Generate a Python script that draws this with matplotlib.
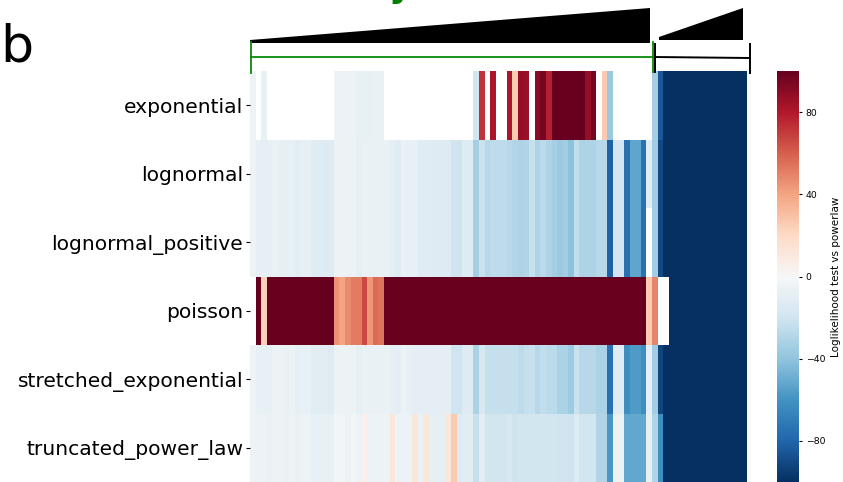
import numpy as np
import matplotlib
matplotlib.use("Agg")
import matplotlib.pyplot as plt
from matplotlib.lines import Line2D
from matplotlib.patches import Polygon

W = np.nan  # blank cell

distributions = ["exponential", "lognormal", "lognormal_positive", "poisson",
                 "stretched_exponential", "truncated_power_law"]

exponential = [
    -6, W, -8, W, W, W, W, W, W, W, W, W, W, W, W,
    -6, -6, -6, -6, -8, -8, -8, -7, -7,
    W, W, W, W, W, W, W, W, W, W, W, W, W, W, W, W,
    -19, 72, W, 82, W, W, 82, 26, 88, 86, W, 90, 96, 78,
    100, 100, 100, 100, 100, 100, 88, 96, W, 26,
    -37, W, W, W, W, W, W, W, -34, -85,
    -100, -100, -100, -100, -100, -100, -100, -100, -100, -100, -100, -100, -100, -100, -100,
]
lognormal = [
    -5, -9, -9, -9, -7, -9, -9, -8, -11, -9, -9, -12, -12, -13, -13,
    -5, -5, -5, -5, -9, -7, -7, -7, -7,
    -7, -10, -12, -7, -8, -8, -12, -12, -12, -13, -13, -13, -20, -21, -14, -14,
    -34, -22, -28, -26, -26, -26, -28, -30, -31, -30, -23, -31, -27, -31,
    -34, -37, -35, -41, -25, -31, -31, -31, -28, -28,
    -82, -18, -18, -75, -53, -53, -75, -12, -35, -90,
    -100, -100, -100, -100, -100, -100, -100, -100, -100, -100, -100, -100, -100, -100, -100,
]
lognormal_positive = [
    -5, -9, -9, -9, -7, -9, -9, -8, -11, -9, -9, -12, -12, -13, -13,
    -5, -5, -5, -5, -9, -7, -7, -7, -7,
    -7, -10, -12, -7, -8, -8, -12, -12, -12, -13, -13, -13, -20, -21, -14, -14,
    -34, -22, -28, -26, -26, -26, -28, -30, -31, -30, -23, -31, -27, -31,
    -34, -37, -35, -41, -25, -31, -31, -31, -28, -28,
    -82, -18, -18, -75, -53, -53, -75, W, -35, -90,
    -100, -100, -100, -100, -100, -100, -100, -100, -100, -100, -100, -100, -100, -100, -100,
]
poisson = [
    W, 100, 24, 100, 100, 100, 100, 100, 100, 100, 100, 100, 100, 100, 100,
    45, 40, 47, 52, 52, 66, 44, 57, 54,
    100, 100, 100, 100, 100, 100, 100, 100, 100, 100, 100, 100, 100, 100, 100, 100,
    100, 100, 100, 100, 100, 100, 100, 100, 100, 100, 100, 100, 100, 100,
    100, 100, 100, 100, 100, 100, 100, 100, 100, 100,
    100, 100, 100, 100, 100, 100, 100, 26, 49, W,
    W, -100, -100, -100, -100, -100, -100, -100, -100, -100, -100, -100, -100, -100, -100,
]
stretched_exponential = [
    -5, -8, -8, -8, -5, -5, -7, -5, -9, -8, -8, -11, -11, -11, -13,
    -5, -5, -5, -5, -9, -7, -7, -7, -7,
    -7, -9, -10, -5, -8, -10, -10, -10, -10, -10, -10, -10, -20, -20, -13, -13,
    -32, -17, -24, -24, -24, -24, -24, -24, -26, -24, -23, -28, -25, -27,
    -27, -32, -32, -36, -22, -28, -28, -28, -32, -32,
    -75, -12, -12, -62, -57, -57, -62, -10, -35, -92,
    -100, -100, -100, -100, -100, -100, -100, -100, -100, -100, -100, -100, -100, -100, -100,
]
truncated_power_law = [
    -5, -6, -6, -7, -5, -5, -7, -5, -7, -5, -5, -8, -8, -8, -8,
    -3, -3, -5, -3, -5, 5, -6, -6, -6,
    -6, 12, -6, -6, -6, 12, -7, 12, -9, -9, -9, 12, 26, -13, -11, -11,
    -23, -11, -19, -19, -19, -19, -17, -21, -19, -19, -19, -19, -19, -19,
    -19, -20, -20, -21, -14, -19, -19, -19, -30, -30,
    -58, -5, -5, -52, -52, -52, -52, -8, -30, -62,
    -100, -100, -100, -100, -100, -100, -100, -100, -100, -100, -100, -100, -100, -100, -100,
]

cbar_ticks = [-80, -40, 0, 40, 80]

mat = np.array([exponential, lognormal, lognormal_positive, poisson,
                stretched_exponential, truncated_power_law], dtype=float)

FIG_W, FIG_H = 843, 482


def px(x, y):
    # pixel position, origin top left, to figure fraction
    return x / FIG_W, 1 - y / FIG_H


fig = plt.figure(figsize=(FIG_W / 100, FIG_H / 100), dpi=100)

ax = fig.add_axes([250 / FIG_W, 0, 497 / FIG_W, 411 / FIG_H])
mesh = ax.pcolormesh(np.ma.masked_invalid(mat), cmap="RdBu_r", vmin=-100, vmax=100)
ax.invert_yaxis()
ax.set_yticks(np.arange(len(distributions)) + 0.5)
ax.set_yticklabels(distributions, fontsize=14.6)
ax.set_xticks([])
ax.tick_params(axis="y", length=3, pad=1.8)
for s in ax.spines.values():
    s.set_visible(False)

cax = fig.add_axes([777 / FIG_W, 0, 22 / FIG_W, 411 / FIG_H])
cbar = fig.colorbar(mesh, cax=cax, ticks=cbar_ticks)
cbar.outline.set_visible(False)
cbar.ax.tick_params(labelsize=6.7, length=2.2, pad=2.5)
cbar.set_label("Loglikelihood test vs powerlaw", fontsize=7.5, labelpad=4.5)

# wedges above the heatmap
fig.add_artist(Polygon([px(250, 40), px(650, 8), px(650, 43), px(250, 43)],
                       closed=True, color="black", lw=0, transform=fig.transFigure))
fig.add_artist(Polygon([px(659, 37), px(743, 8), px(743, 40), px(659, 40)],
                       closed=True, color="black", lw=0, transform=fig.transFigure))

# brackets
green = "#0a8a0a"
for xs, ys in [((250.5, 250.5), (42, 73)), ((250.5, 652.5), (56.5, 56.5)),
               ((652.5, 652.5), (42, 72))]:
    a, b = px(xs[0], ys[0]), px(xs[1], ys[1])
    fig.add_artist(Line2D([a[0], b[0]], [a[1], b[1]], color=green, lw=1.3))
for xs, ys in [((655, 655), (44, 72)), ((655, 750), (57, 58)),
               ((750, 750), (44, 73))]:
    a, b = px(xs[0], ys[0]), px(xs[1], ys[1])
    fig.add_artist(Line2D([a[0], b[0]], [a[1], b[1]], color="black", lw=1.4))

fig.text(*px(0.5, 61.5), "b", fontsize=37.5, color="black", ha="left", va="baseline")
fig.text(*px(389, -3), "y", fontsize=26, color="green", fontweight="bold",
         ha="left", va="baseline")

fig.savefig("out.png", dpi=100)
plt.close(fig)
